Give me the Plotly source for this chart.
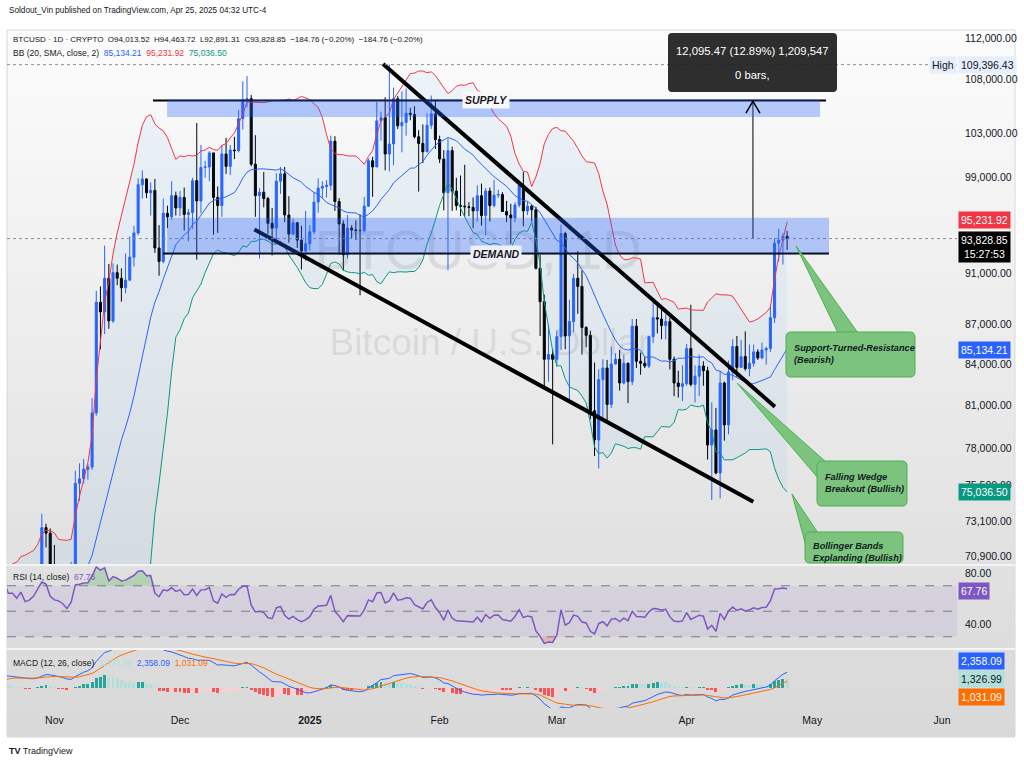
import numpy as np
import pandas as pd
import plotly.graph_objects as go

W, H = 1024, 768
FONT = "Liberation Sans Narrow, Liberation Sans, Arial, sans-serif"

# ---------------------------------------------------------------- data
# closes 1 Sep .. 20 Oct 2024, only used to warm up BB / RSI / MACD
warmup_close = [57300, 59100, 57500, 57950, 56150, 53950, 54150, 54850, 57050, 57650,
                57350, 58150, 60550, 60000, 59150, 58200, 60300, 61750, 62950, 63200,
                63350, 63600, 63350, 64300, 63150, 65200, 65800, 65900, 65600, 63300,
                60800, 60650, 60750, 62100, 62050, 62800, 62200, 62150, 60600, 60300,
                62450, 63200, 62850, 66050, 67050, 67600, 67400, 68400, 68350, 69000]

# daily candles 21 Oct 2024 .. 25 Apr 2025
first_day = "2024-10-21"

btc_open = [
    69000, 67370, 67400, 66650, 68200, 66650, 67000, 67950, 69900, 72700, 72350,
    70200, 69500, 69300, 68750, 67800, 69350, 75600, 75900, 76550, 76700, 80450, 88700, 87950, 90600, 87250,
    91050, 90600, 89850, 90450, 92300, 94300, 98400, 98900, 97700, 97900, 93050, 91950, 95950, 95650, 97450,
    96400, 97300, 95850, 96000, 98750, 97000, 99900, 99950, 101200, 97300, 96600, 101100, 100000, 101450, 101400,
    104300, 106050, 106150, 100200, 97450, 97750, 97200, 95100, 94700, 98700, 99350, 95800, 94200, 95150, 93700, 92800,
    93400, 94400, 96900, 98100, 98250, 98350, 102250, 96950, 95050, 92500, 94700, 94550, 94500, 94500, 96550,
    100500, 99950, 104100, 104400, 101100, 102000, 106150, 103650, 103950, 104800, 104700, 102650, 102050, 101300, 103700, 104750,
    102400, 100650, 97700, 101400, 97850, 96600, 96550, 96500, 96450, 96150, 97450, 95750, 97850, 96600,
    97500, 97550, 96100, 95800, 95550, 96650, 98350, 96150, 96550, 96250, 91400, 88750, 84350, 84700,
    84350, 86050, 94250, 86100, 87200, 90600, 89950, 86750, 86150, 80600, 78550, 82850, 83700, 81050, 84000,
    84350, 82600, 84050, 82700, 86850, 84200, 84050, 83850, 86050, 87500, 87400, 86900, 87200, 84350, 82600, 82350,
    82550, 85150, 82500, 83100, 83850, 83500, 78200, 79250, 76300, 82600, 79600, 83400, 85300,
    83750, 84550, 83650, 84050, 84900, 84450, 85050, 85150, 87500, 93450, 93700, 94013.52,
]
btc_high = [
    69500, 67800, 67600, 68800, 68800, 67450, 68250, 70250, 73600, 72950, 72650,
    71600, 69900, 69400, 69250, 70550, 76450, 76950, 77250, 76900, 81500, 89600, 89950, 93250, 91750, 91800,
    91700, 91400, 92600, 94000, 94900, 98950, 99650, 98950, 98600, 98900, 94950, 97200, 96600, 98700, 97800,
    97850, 98150, 96300, 99000, 103900, 101900, 100500, 101350, 101200, 98250, 101900, 102550, 101900, 102650, 105100,
    107800, 108300, 106500, 102800, 98100, 99500, 97350, 96400, 99400, 99950, 99950, 97400, 95500, 95200, 94900, 96150,
    94950, 97750, 98950, 98700, 98800, 102750, 102700, 97250, 95350, 95800, 94950, 95350, 95850, 97350, 100700,
    100850, 105850, 104950, 106300, 109396.43, 107200, 106400, 106850, 107100, 105300, 105450, 103250, 103780, 104790, 106450, 106000,
    102750, 101450, 102500, 101750, 99000, 99200, 100150, 96900, 97300, 98350, 98500, 98100, 98150, 98800,
    97950, 97750, 97000, 96750, 96900, 98750, 99500, 96950, 96650, 96500, 92500, 89300, 87000, 85100,
    86500, 95000, 94400, 88900, 90950, 92800, 91250, 86850, 86500, 84100, 83600, 84350, 84300, 85300, 84800,
    85050, 84700, 84100, 87400, 87400, 84850, 84500, 86100, 88750, 88500, 88250, 87750, 87500, 84550, 83500, 83900,
    85500, 88500, 83900, 84700, 84200, 83800, 81200, 80800, 83500, 82700, 84250, 85850, 86100,
    85800, 86450, 85450, 85450, 85100, 85600, 85300, 88450, 93850, 94650, 94300, 94463.72,
]
btc_low = [
    66800, 66600, 65300, 66550, 65750, 66600, 66850, 67550, 69750, 71450, 69700,
    68800, 68900, 67500, 66800, 67450, 69350, 74450, 75600, 75850, 76500, 80250, 85100, 86250, 86650, 87100,
    90050, 88750, 89400, 90400, 91550, 94100, 97200, 97250, 95750, 92650, 90800, 91800, 94700, 95400, 95750,
    95700, 94500, 93600, 94650, 92100, 95950, 99000, 98700, 94150, 94300, 95650, 99350, 99250, 100650, 101250,
    103300, 105350, 100000, 95650, 92200, 96450, 94200, 92450, 93450, 97600, 95200, 93500, 94100, 93050, 91300, 92000,
    92850, 94200, 96000, 97250, 97300, 97900, 96150, 92500, 91200, 92200, 93850, 93700, 89250, 94350, 96500,
    97350, 99950, 102300, 99650, 99550, 100100, 103350, 101250, 102750, 104150, 102500, 97800, 100300, 101250, 103350, 101550,
    100300, 96200, 91250, 96150, 96200, 95700, 95650, 95700, 94700, 95250, 94900, 94100, 95250, 96450,
    97250, 96050, 95200, 93400, 95200, 96450, 94850, 95800, 95250, 91300, 86100, 82300, 82700, 78250,
    83800, 85050, 85100, 81400, 86400, 87800, 84700, 85250, 80000, 77450, 76600, 80100, 79950, 80800, 83950,
    82050, 82500, 81150, 82450, 83700, 83200, 83700, 83700, 85550, 86300, 85850, 85850, 83600, 81650, 81550, 81300,
    82400, 82350, 81200, 81650, 82400, 77200, 74500, 76200, 74600, 78500, 78950, 82800, 83050,
    83700, 83500, 83100, 83800, 84300, 84350, 83950, 84900, 87100, 91950, 91700, 92891.31,
]
btc_close = [
    67370, 67400, 66650, 68200, 66650, 67000, 67950, 69900, 72700, 72350, 70200,
    69500, 69300, 68750, 67800, 69350, 75600, 75900, 76550, 76700, 80450, 88700, 87950, 90600, 87250, 91050,
    90600, 89850, 90450, 92300, 94300, 98400, 98900, 97700, 97900, 93050, 91950, 95950, 95650, 97450, 96400,
    97300, 95850, 96000, 98750, 97000, 99900, 99950, 101200, 97300, 96600, 101100, 100000, 101450, 101400, 104300,
    106050, 106150, 100200, 97450, 97750, 97200, 95100, 94700, 98700, 99350, 95800, 94200, 95150, 93700, 92800, 93400,
    94400, 96900, 98100, 98250, 98350, 102250, 96950, 95050, 92500, 94700, 94550, 94500, 94500, 96550, 100500,
    99950, 104100, 104400, 101100, 102000, 106150, 103650, 103950, 104800, 104700, 102650, 102050, 101300, 103700, 104750, 102400,
    100650, 97700, 101400, 97850, 96600, 96550, 96500, 96450, 96150, 97450, 95750, 97850, 96600, 97500,
    97550, 96100, 95800, 95550, 96650, 98350, 96150, 96550, 96250, 91400, 88750, 84350, 84700, 84350,
    86050, 94250, 86100, 87200, 90600, 89950, 86750, 86150, 80600, 78550, 82850, 83700, 81050, 84000, 84350,
    82600, 84050, 82700, 86850, 84200, 84050, 83850, 86050, 87500, 87400, 86900, 87200, 84350, 82600, 82350, 82550,
    85150, 82500, 83100, 83850, 83500, 78200, 79250, 76300, 82600, 79600, 83400, 85300, 83750,
    84550, 83650, 84050, 84900, 84450, 85050, 85150, 87500, 93450, 93700, 94013.52, 93828.85,
]

# drawings (time, price)
wedge_upper_t = ["2025-01-18 12:00", "2025-04-22 02:00"]
wedge_upper_p = [109460, 80890]
wedge_lower_t = ["2024-12-18 18:00", "2025-04-16 22:00"]
wedge_lower_p = [94590, 74380]
supply_line_t = ["2024-11-24 13:00", "2025-05-04 07:00"]
supply_line_p = [106000, 106000]
supply_zone_t = ["2024-11-27 22:00", "2025-05-02 21:00"]
supply_zone_p = [104450, 106100]
demand_line_t = ["2024-11-26 22:00", "2025-05-05 00:00"]
demand_line_p = [92600, 92600]
demand_zone_t = ["2024-11-27 22:00", "2025-05-05 00:00"]
demand_zone_p = [92600, 95560]
measure_t = ["2025-04-16 20:00", "2025-04-16 20:00"]
measure_p = [93828.85, 105924.32]
ath_price = 109396.43
last_price = 93828.85

price_ticks = [112000, 108000, 103000, 99000, 91000, 87000, 84000, 81000, 78000, 75500, 73100, 70900]
rsi_ticks = [80, 40]
month_ticks = ["2024-11-01", "2024-12-01", "2025-01-01", "2025-02-01", "2025-03-01",
               "2025-04-01", "2025-05-01", "2025-06-01"]
month_labels = ["Nov", "Dec", "<b>2025</b>", "Feb", "Mar", "Apr", "May", "Jun"]

# ---------------------------------------------------------------- indicators
dates = pd.date_range(first_day, periods=len(btc_close), freq="D")
warm_dates = pd.date_range(end=dates[0] - pd.Timedelta(days=1), periods=len(warmup_close), freq="D")
closes = pd.Series(warmup_close + btc_close, index=warm_dates.append(dates), dtype=float)

basis = closes.rolling(20).mean()
dev = closes.rolling(20).std(ddof=0)
bb_up = basis + 2 * dev
bb_lo = basis - 2 * dev

delta = closes.diff()
gain = delta.clip(lower=0).ewm(alpha=1 / 14, adjust=False).mean()
loss = (-delta.clip(upper=0)).ewm(alpha=1 / 14, adjust=False).mean()
rsi = 100 - 100 / (1 + gain / loss)

macd = closes.ewm(span=12, adjust=False).mean() - closes.ewm(span=26, adjust=False).mean()
signal = macd.ewm(span=9, adjust=False).mean()
hist = macd - signal
prev = hist.shift(1)
hist_col = np.where(hist >= 0,
                    np.where(hist > prev, "#26a69a", "#b2dfdb"),
                    np.where(hist < prev, "#ff5252", "#ffcdd2"))

vis = closes.index >= pd.Timestamp("2024-10-19")
idx = closes.index[vis]

# ---------------------------------------------------------------- geometry
X_LEFT, X_RIGHT = 7, 957
PRICE_TOP, PRICE_BOT = 30, 564
RSI_TOP, RSI_BOT = 566, 648
MACD_TOP, MACD_BOT = 650, 708
T0, T1 = pd.Timestamp("2024-10-20 16:20"), pd.Timestamp("2025-06-04 13:40")
P_LO, P_HI = 70406, 112794
RSI_LO, RSI_HI = 21.18, 85.49
MACD_LO, MACD_HI = -3000, 5700


def fx(px):
    return px / W


def fy(py):
    return 1 - py / H


def dx(t):
    frac = (pd.Timestamp(t) - T0) / (T1 - T0)
    return fx(X_LEFT + frac * (X_RIGHT - X_LEFT))


def dy(p):
    frac = (np.log10(p) - np.log10(P_LO)) / (np.log10(P_HI) - np.log10(P_LO))
    return fy(PRICE_BOT - frac * (PRICE_BOT - PRICE_TOP))


xdom = [fx(X_LEFT), fx(X_RIGHT)]

fig = go.Figure()

# watermark (under everything)
fig.add_trace(go.Scatter(x=["2025-02-10 06:00"], y=[92420], mode="text", text=["BTCUSD, 1D"],
                         textfont=dict(family=FONT, size=55, color="rgba(90,90,90,0.14)"), hoverinfo="skip"))
fig.add_trace(go.Scatter(x=["2025-02-13 00:00"], y=[85390], mode="text", text=["Bitcoin / U.S. Dollar"],
                         textfont=dict(family=FONT, size=37, color="rgba(90,90,90,0.14)"), hoverinfo="skip"))

# Bollinger bands
fig.add_trace(go.Scatter(x=idx, y=bb_up[vis], mode="lines", line=dict(color="#f23645", width=1), hoverinfo="skip"))
fig.add_trace(go.Scatter(x=idx, y=bb_lo[vis], mode="lines", line=dict(color="#089981", width=1),
                         fill="tonexty", fillcolor="rgba(33,150,243,0.06)", hoverinfo="skip"))
fig.add_trace(go.Scatter(x=idx, y=basis[vis], mode="lines", line=dict(color="#2962ff", width=1), hoverinfo="skip"))

# candles
fig.add_trace(go.Candlestick(
    x=dates, open=btc_open, high=btc_high, low=btc_low, close=btc_close,
    increasing=dict(line=dict(color="#2962ff", width=1), fillcolor="#2962ff"),
    decreasing=dict(line=dict(color="#000000", width=1), fillcolor="#000000"),
    whiskerwidth=0,
))

# drawings
for tt, pp, w in [(wedge_upper_t, wedge_upper_p, 4), (wedge_lower_t, wedge_lower_p, 4),
                  (supply_line_t, supply_line_p, 2), (demand_line_t, demand_line_p, 2),
                  (measure_t, measure_p, 1)]:
    fig.add_trace(go.Scatter(x=tt, y=pp, mode="lines", line=dict(color="#000000", width=w), hoverinfo="skip"))

# RSI pane
rsi_v = rsi[vis]
fig.add_trace(go.Scatter(x=idx, y=[70] * len(idx), mode="lines", line=dict(width=0), xaxis="x2", yaxis="y2", hoverinfo="skip"))
fig.add_trace(go.Scatter(x=idx, y=np.maximum(rsi_v, 70), mode="lines", line=dict(width=0), xaxis="x2", yaxis="y2",
                         fill="tonexty", fillcolor="rgba(76,175,80,0.30)", hoverinfo="skip"))
fig.add_trace(go.Scatter(x=idx, y=[30] * len(idx), mode="lines", line=dict(width=0), xaxis="x2", yaxis="y2", hoverinfo="skip"))
fig.add_trace(go.Scatter(x=idx, y=np.minimum(rsi_v, 30), mode="lines", line=dict(width=0), xaxis="x2", yaxis="y2",
                         fill="tonexty", fillcolor="rgba(242,54,69,0.25)", hoverinfo="skip"))
fig.add_trace(go.Scatter(x=idx, y=rsi_v, mode="lines", line=dict(color="#7e57c2", width=1.5), xaxis="x2", yaxis="y2",
                         hoverinfo="skip"))

# MACD pane
fig.add_trace(go.Bar(x=idx, y=hist[vis], marker=dict(color=hist_col[vis], line=dict(width=0)),
                     width=0.7 * 86400000, xaxis="x3", yaxis="y3", hoverinfo="skip"))
fig.add_trace(go.Scatter(x=idx, y=macd[vis], mode="lines", line=dict(color="#2962ff", width=1), xaxis="x3", yaxis="y3",
                         hoverinfo="skip"))
fig.add_trace(go.Scatter(x=idx, y=signal[vis], mode="lines", line=dict(color="#ff6d00", width=1), xaxis="x3", yaxis="y3",
                         hoverinfo="skip"))

# ---------------------------------------------------------------- shapes
shapes = []
# card background gradient
N = 60
for i in range(N):
    y0 = 30 + i * 707 / N
    g = int(round(252 - 36 * (i + 0.5) / N))
    shapes.append(dict(type="rect", xref="paper", yref="paper", x0=fx(7), x1=fx(1015),
                       y0=fy(y0), y1=fy(y0 + 707 / N + 0.6), line=dict(width=0),
                       fillcolor=f"rgb({g},{g},{g})", layer="below"))
shapes.append(dict(type="rect", xref="paper", yref="paper", x0=fx(7), x1=fx(1015), y0=fy(30), y1=fy(736),
                   line=dict(color="#d6d8de", width=1), layer="below"))
# RSI band and levels
shapes.append(dict(type="rect", xref="paper", yref="y2", x0=xdom[0], x1=xdom[1], y0=30, y1=70,
                   fillcolor="rgba(126,87,194,0.10)", line=dict(width=0), layer="below"))
for lvl in (70, 50, 30):
    shapes.append(dict(type="line", xref="paper", yref="y2", x0=xdom[0], x1=xdom[1], y0=lvl, y1=lvl,
                       line=dict(color="#787b86", width=1, dash="dash"), layer="below"))
# pane separators
for sy in (565, 649):
    shapes.append(dict(type="line", xref="paper", yref="paper", x0=fx(7), x1=fx(1015), y0=fy(sy), y1=fy(sy),
                       line=dict(color="#f4f4f6", width=2)))
# dotted price lines
for p in (ath_price, last_price):
    shapes.append(dict(type="line", xref="paper", yref="paper", x0=xdom[0], x1=xdom[1], y0=dy(p), y1=dy(p),
                       line=dict(color="#8a8d96", width=1, dash="dot")))
# supply / demand zones
for tt, pp in [(supply_zone_t, supply_zone_p), (demand_zone_t, demand_zone_p)]:
    shapes.append(dict(type="rect", xref="paper", yref="paper", x0=dx(tt[0]), x1=dx(tt[1]),
                       y0=dy(pp[0]), y1=dy(pp[1]), fillcolor="rgba(41,98,255,0.32)", line=dict(width=0)))

# arrow head of the measurement
ax_, ay_ = dx(measure_t[1]), dy(measure_p[1])
shapes.append(dict(type="path", xref="paper", yref="paper",
                   path=f"M {ax_ - fx(7)},{ay_ - 12 / H} L {ax_},{ay_} L {ax_ + fx(7)},{ay_ - 12 / H}",
                   line=dict(color="#000000", width=1.5)))


def rrect(x0, y0, x1, y1, r):
    rx, ry = r / W, r / H
    X0, X1, Y0, Y1 = fx(x0), fx(x1), fy(y1), fy(y0)
    return (f"M {X0 + rx},{Y0} L {X1 - rx},{Y0} Q {X1},{Y0} {X1},{Y0 + ry} L {X1},{Y1 - ry} "
            f"Q {X1},{Y1} {X1 - rx},{Y1} L {X0 + rx},{Y1} Q {X0},{Y1} {X0},{Y1 - ry} "
            f"L {X0},{Y0 + ry} Q {X0},{Y0} {X0 + rx},{Y0} Z")


def tri(a, b, c):
    return f"M {fx(a[0])},{fy(a[1])} L {fx(b[0])},{fy(b[1])} L {fx(c[0])},{fy(c[1])} Z"


GREEN = "#7cc47e"
GREEN_LINE = "#4caf50"
callouts = [
    ((786, 332, 915, 377), ((796, 246), (838, 333), (858, 333))),
    ((817, 461, 907, 506), ((737, 383), (826, 462), (818, 478))),
    ((805, 532, 903, 563), ((792, 494), (818, 533), (806, 546))),
]
for box, t in callouts:
    shapes.append(dict(type="path", xref="paper", yref="paper", path=tri(*t),
                       fillcolor=GREEN, line=dict(color=GREEN_LINE, width=1)))
    shapes.append(dict(type="path", xref="paper", yref="paper", path=rrect(*box, 5),
                       fillcolor=GREEN, line=dict(color=GREEN_LINE, width=1)))

# measurement tooltip box
shapes.append(dict(type="path", xref="paper", yref="paper", path=rrect(668, 33, 837, 92, 4),
                   fillcolor="rgba(30,30,30,0.93)", line=dict(width=0)))

# ---------------------------------------------------------------- annotations
ann = []


def label(x, y, text, size=10, color="#131722", xanchor="left", bg=None, font=FONT, **kw):
    d = dict(x=x, y=y, xref="paper", yref="paper", text=text, showarrow=False, xanchor=xanchor,
             yanchor="middle", font=dict(family=font, size=size, color=color))
    if bg:
        d.update(bgcolor=bg, borderpad=2)
    d.update(kw)
    ann.append(d)


label(fx(7), fy(11), "Soldout_Vin published on TradingView.com, Apr 25, 2025 04:32 UTC-4", size=8.2)
label(fx(11), fy(39), "BTCUSD · 1D · CRYPTO&nbsp;&nbsp;O94,013.52&nbsp;&nbsp;H94,463.72&nbsp;&nbsp;L92,891.31&nbsp;&nbsp;"
      "C93,828.85&nbsp;&nbsp;−184.76 (−0.20%)&nbsp;&nbsp;−184.76 (−0.20%)", size=8)
label(fx(11), fy(53), "BB (20, SMA, close, 2)&nbsp;&nbsp;<span style='color:#2962ff'>85,134.21</span>&nbsp;&nbsp;"
      "<span style='color:#f23645'>95,231.92</span>&nbsp;&nbsp;<span style='color:#089981'>75,036.50</span>", size=8.5)
label(fx(11), fy(577), "RSI (14, close)&nbsp;&nbsp;<span style='color:#7e57c2'>67.76</span>", size=8.5)
label(fx(11), fy(663), "MACD (12, 26, close)&nbsp;&nbsp;<span style='color:#b2dfdb'>1,326.99</span>&nbsp;&nbsp;"
      "<span style='color:#2962ff'>2,358.09</span>&nbsp;&nbsp;<span style='color:#ff6d00'>1,031.09</span>", size=8.5)

# right-scale value tags
RX = fx(958)
label(fx(957), dy(ath_price), "High", size=10.5, xanchor="right", bg="#e6edfb")
label(RX, dy(ath_price), "109,396.43", size=10.5, bg="#e6edfb")
label(RX, fy(220), "95,231.92", size=10.5, color="white", bg="#f23645")
label(RX, fy(247), "93,828.85<br>15:27:53", size=10.5, color="white", bg="#000000")
label(RX, fy(350), "85,134.21", size=10.5, color="white", bg="#2962ff")
label(RX, fy(492), "75,036.50", size=10.5, color="white", bg="#089981")
label(RX, fy(591), "67.76", size=10.5, color="white", bg="#7e57c2")
label(RX, fy(661), "2,358.09", size=10.5, color="white", bg="#2962ff")
label(RX, fy(679), "1,326.99", size=10.5, color="#131722", bg="#b2dfdb")
label(RX, fy(697), "1,031.09", size=10.5, color="white", bg="#ff6d00")

# zone labels
label(dx("2025-02-12 00:00"), dy(supply_line_p[0]), "<b><i>SUPPLY</i></b>", size=10.5, xanchor="center", bg="#f7f7f7")
label(dx("2025-02-14 12:00"), dy(demand_line_p[0]), "<b><i>DEMAND</i></b>", size=10.5, xanchor="center", bg="#eef0f5")

# measurement tooltip
label(fx(752.5), fy(51), "12,095.47 (12.89%) 1,209,547", size=11.3, color="white", xanchor="center")
label(fx(752.5), fy(75), "0 bars,", size=11.3, color="white", xanchor="center")

# callout texts
label(fx(792), fy(354), "<b><i>Support-Turned-Resistance<br>(Bearish)</i></b>", size=9.2, align="left")
label(fx(823), fy(483), "<b><i>Falling Wedge<br>Breakout (Bullish)</i></b>", size=9.2, align="left")
label(fx(811), fy(552), "<b><i>Bollinger Bands<br>Explanding (Bullish)</i></b>", size=9.2, align="left")

label(fx(7), fy(751), "<b>TV</b> TradingView", size=9)

# ---------------------------------------------------------------- layout
axis_common = dict(showgrid=False, zeroline=False, showline=False)
fig.update_layout(
    width=W, height=H, margin=dict(l=0, r=0, t=0, b=0),
    paper_bgcolor="white", plot_bgcolor="rgba(0,0,0,0)",
    showlegend=False, bargap=0,
    font=dict(family=FONT, size=10.5, color="#131722"),
    xaxis=dict(domain=xdom, range=[T0, T1], type="date", anchor="y", showticklabels=False,
               rangeslider=dict(visible=False), **axis_common),
    yaxis=dict(domain=[fy(PRICE_BOT), fy(PRICE_TOP)], type="log",
               range=[np.log10(P_LO), np.log10(P_HI)], side="right", anchor="x",
               tickvals=price_ticks, ticktext=[f"{v:,.2f}" for v in price_ticks],
               ticks="", ticklabelstandoff=7, **axis_common),
    xaxis2=dict(domain=xdom, matches="x", anchor="y2", showticklabels=False, **axis_common),
    yaxis2=dict(domain=[fy(RSI_BOT), fy(RSI_TOP)], range=[RSI_LO, RSI_HI], side="right", anchor="x2",
                tickvals=rsi_ticks, ticktext=[f"{v:.2f}" for v in rsi_ticks], ticks="",
                ticklabelstandoff=7, **axis_common),
    xaxis3=dict(domain=xdom, matches="x", anchor="y3", tickvals=month_ticks, ticktext=month_labels,
                ticks="", ticklabelstandoff=4, tickfont=dict(size=10.5), **axis_common),
    yaxis3=dict(domain=[fy(MACD_BOT), fy(MACD_TOP)], range=[MACD_LO, MACD_HI], side="right", anchor="x3",
                showticklabels=False, **axis_common),
    shapes=shapes,
    annotations=ann,
)

fig.write_html("out.html", config={"displayModeBar": False},
               post_script="document.body.style.margin='0';")
